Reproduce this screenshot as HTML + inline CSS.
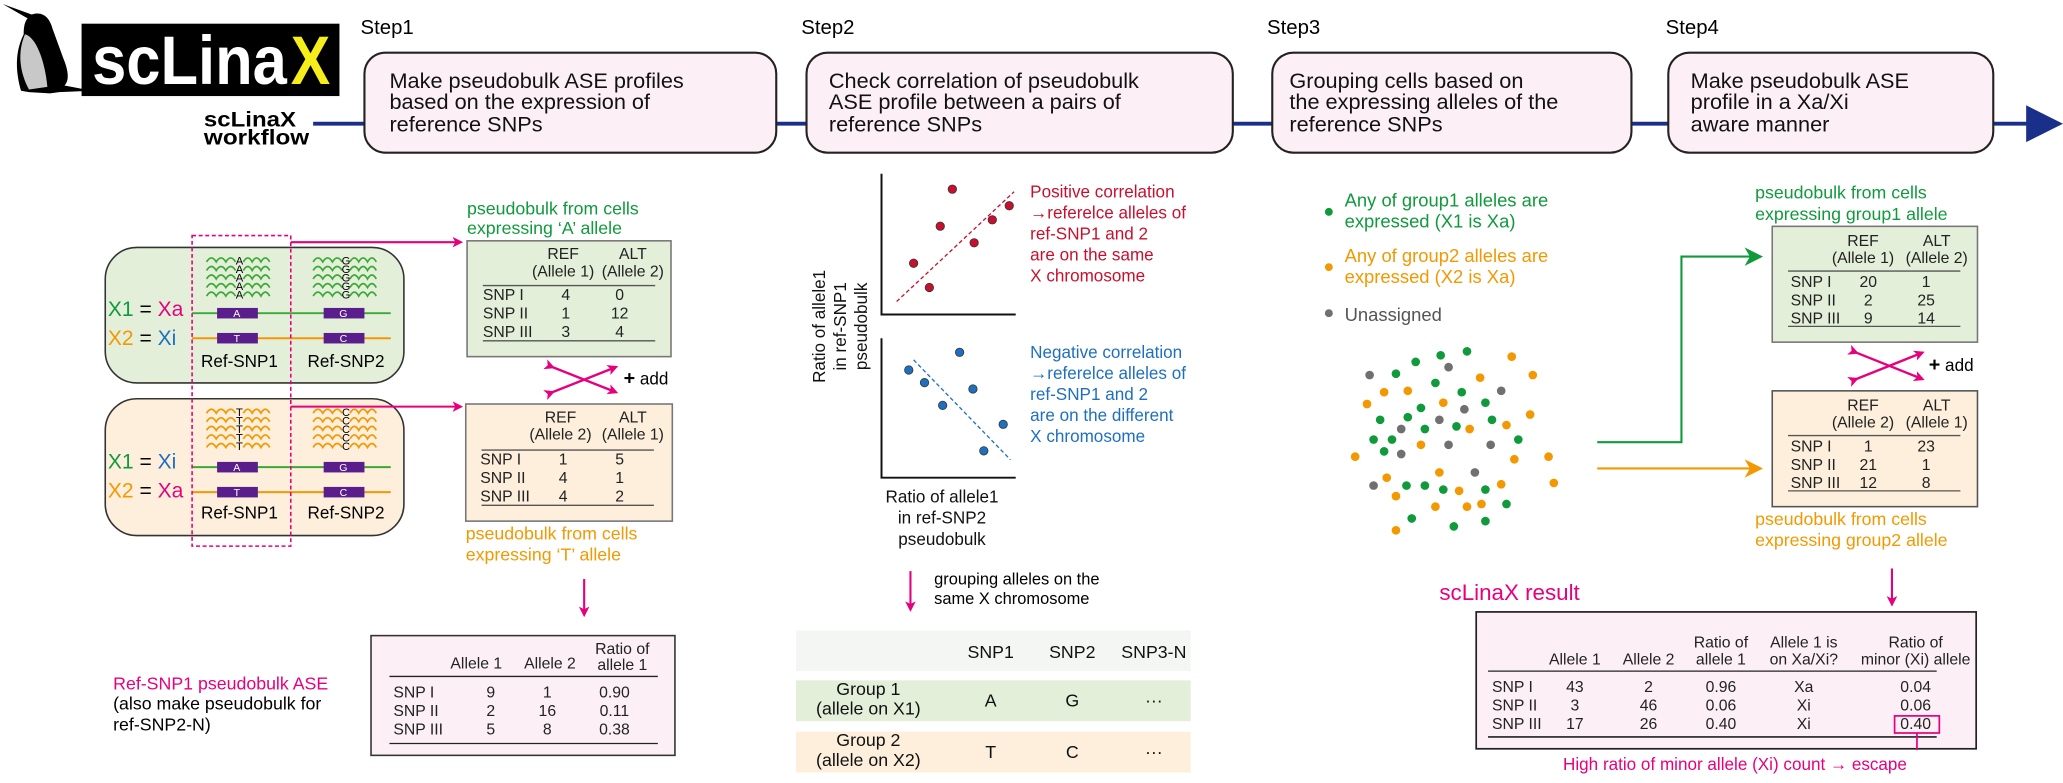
<!DOCTYPE html>
<html><head><meta charset="utf-8">
<style>
html,body{margin:0;padding:0;background:#fff;}
svg{display:block;font-family:"Liberation Sans",Arial,sans-serif;}
</style></head>
<body>
<svg id="fig" width="2063" height="783" viewBox="0 0 1568 595" preserveAspectRatio="none" xmlns="http://www.w3.org/2000/svg">
<defs>
<marker id="mag" markerWidth="8" markerHeight="8" refX="6" refY="4" orient="auto" markerUnits="userSpaceOnUse"><path d="M0,0 L8,4 L0,8 L2,4 Z" fill="#e6007e"/></marker>
<marker id="grn" markerWidth="14" markerHeight="14" refX="12" refY="7" orient="auto" markerUnits="userSpaceOnUse"><path d="M0,0 L14,7 L0,14 L4,7 Z" fill="#109a3c"/></marker>
<marker id="org" markerWidth="14" markerHeight="14" refX="12" refY="7" orient="auto" markerUnits="userSpaceOnUse"><path d="M0,0 L14,7 L0,14 L4,7 Z" fill="#f39800"/></marker>
</defs>

<!-- Header -->
<g>
<path d="M2,3 L24,11 C33,8 38,14 40,22 L48,44 C53,56 52,62 49,65 L70,69 L45,70 L38,71 L22,70 L16,69 C12,55 11,40 18,26 C18,20 19,16 21,14 Z" fill="#000"/>
<path d="M19,26 C27,28 34,45 36,66 L22,68 C15,55 13,40 19,26 Z" fill="#c8c8c8"/>
</g>
<g>
<rect x="62" y="18" width="196" height="55" fill="#000"/>
<text x="70" y="64" font-size="52" font-weight="bold" fill="#fff" textLength="148" lengthAdjust="spacingAndGlyphs">scLina</text>
<text x="221" y="64" font-size="52" font-weight="bold" fill="#f5ee1a" textLength="30" lengthAdjust="spacingAndGlyphs">X</text>
</g>
<text x="155" y="96" font-size="16" font-weight="bold" textLength="70" lengthAdjust="spacingAndGlyphs">scLinaX</text>
<text x="155" y="110" font-size="16" font-weight="bold" textLength="80" lengthAdjust="spacingAndGlyphs">workflow</text>
<line x1="238" y1="94" x2="1545" y2="94" stroke="#1a2f8a" stroke-width="3"/>
<path d="M1540,80 L1568,94 L1540,108 Z" fill="#1a2f8a"/>

<g font-size="15.5">
<text x="274" y="26">Step1</text>
<text x="609" y="26">Step2</text>
<text x="963" y="26">Step3</text>
<text x="1266" y="26">Step4</text>
</g>
<g font-size="16.5" stroke="#222" stroke-width="1.6" fill="#fcf0f6">
<rect x="277" y="40" width="313" height="76" rx="16"/>
<rect x="613" y="40" width="324" height="76" rx="16"/>
<rect x="967" y="40" width="273" height="76" rx="16"/>
<rect x="1268" y="40" width="247" height="76" rx="16"/>
</g>
<g font-size="16.5" fill="#111">
<text x="296" y="67">Make pseudobulk ASE profiles</text>
<text x="296" y="83">based on the expression of</text>
<text x="296" y="100">reference SNPs</text>
<text x="630" y="67">Check correlation of pseudobulk</text>
<text x="630" y="83">ASE profile between a pairs of</text>
<text x="630" y="100">reference SNPs</text>
<text x="980" y="67">Grouping cells based on</text>
<text x="980" y="83">the expressing alleles of the</text>
<text x="980" y="100">reference SNPs</text>
<text x="1285" y="67">Make pseudobulk ASE</text>
<text x="1285" y="83">profile in a Xa/Xi</text>
<text x="1285" y="100">aware manner</text>
</g>

<!-- Step1 chromosome boxes -->
<rect x="80" y="188" width="227" height="103" rx="24" fill="#e4efda" stroke="#333" stroke-width="1.2"/>
<rect x="80" y="303" width="227" height="104" rx="24" fill="#fdefdb" stroke="#333" stroke-width="1.2"/>
<g id="waves"></g>
<g font-size="16">
<text x="82" y="240"><tspan fill="#109a3c">X1</tspan> = <tspan fill="#e6007e">Xa</tspan></text>
<text x="82" y="262"><tspan fill="#f39800">X2</tspan> = <tspan fill="#1e6fc0">Xi</tspan></text>
<text x="82" y="356"><tspan fill="#109a3c">X1</tspan> = <tspan fill="#1e6fc0">Xi</tspan></text>
<text x="82" y="378"><tspan fill="#f39800">X2</tspan> = <tspan fill="#e6007e">Xa</tspan></text>
</g>
<g stroke-width="1.5">
<line x1="146" y1="238" x2="297" y2="238" stroke="#3aaa35"/>
<line x1="146" y1="257" x2="297" y2="257" stroke="#f39800"/>
<line x1="146" y1="355" x2="297" y2="355" stroke="#3aaa35"/>
<line x1="146" y1="374" x2="297" y2="374" stroke="#f39800"/>
</g>
<g fill="#5a1e8c">
<rect x="165" y="234" width="31" height="8"/><rect x="246" y="234" width="31" height="8"/>
<rect x="165" y="253" width="31" height="8"/><rect x="246" y="253" width="31" height="8"/>
<rect x="165" y="351" width="31" height="8"/><rect x="246" y="351" width="31" height="8"/>
<rect x="165" y="370" width="31" height="8"/><rect x="246" y="370" width="31" height="8"/>
</g>
<g fill="#fff" font-size="8" text-anchor="middle">
<text x="180" y="241">A</text><text x="261" y="241">G</text><text x="180" y="260">T</text><text x="261" y="260">C</text>
<text x="180" y="358">A</text><text x="261" y="358">G</text><text x="180" y="377">T</text><text x="261" y="377">C</text>
</g>
<g font-size="13" text-anchor="middle">
<text x="182" y="279">Ref-SNP1</text><text x="263" y="279">Ref-SNP2</text>
<text x="182" y="394">Ref-SNP1</text><text x="263" y="394">Ref-SNP2</text>
</g>
<rect x="146" y="179" width="75" height="236" fill="none" stroke="#e6007e" stroke-width="1.2" stroke-dasharray="3,2"/>
<line x1="221" y1="184" x2="350" y2="184" stroke="#e6007e" stroke-width="1.6" marker-end="url(#mag)"/>
<line x1="221" y1="309" x2="350" y2="309" stroke="#e6007e" stroke-width="1.6" marker-end="url(#mag)"/>

<!-- Step1 tables -->
<g font-size="13.5" fill="#109a3c"><text x="355" y="163">pseudobulk from cells</text><text x="355" y="178">expressing ‘A’ allele</text></g>
<rect x="355" y="183" width="155" height="88" fill="#e4efda" stroke="#777" stroke-width="1.2"/>
<g font-size="12" fill="#222" text-anchor="middle">
<text x="428" y="197">REF</text><text x="481" y="197">ALT</text>
<text x="428" y="210">(Allele 1)</text><text x="481" y="210">(Allele 2)</text>
<text x="430" y="228">4</text><text x="471" y="228">0</text>
<text x="430" y="242">1</text><text x="471" y="242">12</text>
<text x="430" y="256">3</text><text x="471" y="256">4</text>
</g>
<g font-size="12" fill="#222"><text x="367" y="228">SNP I</text><text x="367" y="242">SNP II</text><text x="367" y="256">SNP III</text></g>
<line x1="367" y1="217" x2="498" y2="217" stroke="#555"/><line x1="367" y1="259" x2="498" y2="259" stroke="#555"/>

<g stroke="#e6007e" stroke-width="1.8">
<line x1="420" y1="279" x2="468" y2="298" marker-end="url(#mag)" marker-start="url(#mag)"/>
<line x1="420" y1="298" x2="468" y2="279" marker-end="url(#mag)" marker-start="url(#mag)"/>
</g>
<text x="474" y="292" font-size="13"><tspan font-weight="bold" font-size="15">+</tspan> add</text>

<rect x="354" y="307" width="157" height="89" fill="#fdefdb" stroke="#777" stroke-width="1.2"/>
<g font-size="12" fill="#222" text-anchor="middle">
<text x="426" y="321">REF</text><text x="481" y="321">ALT</text>
<text x="426" y="334">(Allele 2)</text><text x="481" y="334">(Allele 1)</text>
<text x="428" y="353">1</text><text x="471" y="353">5</text>
<text x="428" y="367">4</text><text x="471" y="367">1</text>
<text x="428" y="381">4</text><text x="471" y="381">2</text>
</g>
<g font-size="12" fill="#222"><text x="365" y="353">SNP I</text><text x="365" y="367">SNP II</text><text x="365" y="381">SNP III</text></g>
<line x1="366" y1="342" x2="497" y2="342" stroke="#555"/><line x1="366" y1="384" x2="497" y2="384" stroke="#555"/>
<g font-size="13.5" fill="#f39800"><text x="354" y="410">pseudobulk from cells</text><text x="354" y="426">expressing ‘T’ allele</text></g>
<line x1="444" y1="440" x2="444" y2="467" stroke="#e6007e" stroke-width="1.6" marker-end="url(#mag)"/>

<g font-size="13.5">
<text x="86" y="524" fill="#e6007e">Ref-SNP1 pseudobulk ASE</text>
<text x="86" y="539">(also make pseudobulk for</text>
<text x="86" y="555">ref-SNP2-N)</text>
</g>
<rect x="282" y="483" width="231" height="91" fill="#fcf0f6" stroke="#333" stroke-width="1.2"/>
<g font-size="12" fill="#222" text-anchor="middle">
<text x="362" y="508">Allele 1</text><text x="418" y="508">Allele 2</text>
<text x="473" y="497">Ratio of</text><text x="473" y="509">allele 1</text>
<text x="373" y="530">9</text><text x="416" y="530">1</text><text x="467" y="530">0.90</text>
<text x="373" y="544">2</text><text x="416" y="544">16</text><text x="467" y="544">0.11</text>
<text x="373" y="558">5</text><text x="416" y="558">8</text><text x="467" y="558">0.38</text>
</g>
<g font-size="12" fill="#222"><text x="299" y="530">SNP I</text><text x="299" y="544">SNP II</text><text x="299" y="558">SNP III</text></g>
<line x1="296" y1="514" x2="500" y2="514" stroke="#222"/><line x1="296" y1="565" x2="500" y2="565" stroke="#222"/>

<!-- Step2 scatter -->
<g id="scatter"></g>
<g font-size="13" text-anchor="middle" fill="#111">
<text transform="translate(627,248) rotate(-90)">Ratio of allele1</text>
<text transform="translate(643,248) rotate(-90)">in ref-SNP1</text>
<text transform="translate(659,248) rotate(-90)">pseudobulk</text>
<text x="716" y="382">Ratio of allele1</text>
<text x="716" y="398">in ref-SNP2</text>
<text x="716" y="414">pseudobulk</text>
</g>
<g font-size="13" fill="#c8102e">
<text x="783" y="150">Positive correlation</text><text x="783" y="166">→referelce alleles of</text><text x="783" y="182">ref-SNP1 and 2</text><text x="783" y="198">are on the same</text><text x="783" y="214">X chromosome</text>
</g>
<g font-size="13" fill="#1e6fc0">
<text x="783" y="272">Negative correlation</text><text x="783" y="288">→referelce alleles of</text><text x="783" y="304">ref-SNP1 and 2</text><text x="783" y="320">are on the different</text><text x="783" y="336">X chromosome</text>
</g>
<line x1="692" y1="434" x2="692" y2="463" stroke="#e6007e" stroke-width="1.6" marker-end="url(#mag)"/>
<g font-size="12.5"><text x="710" y="444">grouping alleles on the</text><text x="710" y="459">same X chromosome</text></g>
<rect x="605" y="479" width="300" height="31" fill="#f4f6f4"/>
<rect x="605" y="517" width="300" height="31" fill="#e4efda"/>
<rect x="605" y="556" width="300" height="31" fill="#fdefdb"/>
<g font-size="13.5" text-anchor="middle" fill="#111">
<text x="753" y="500">SNP1</text><text x="815" y="500">SNP2</text><text x="877" y="500">SNP3-N</text>
<text x="660" y="528">Group 1</text><text x="660" y="543">(allele on X1)</text>
<text x="753" y="537">A</text><text x="815" y="537">G</text><text x="877" y="537">···</text>
<text x="660" y="567">Group 2</text><text x="660" y="582">(allele on X2)</text>
<text x="753" y="576">T</text><text x="815" y="576">C</text><text x="877" y="576">···</text>
</g>

<!-- Step3 -->
<circle cx="1010" cy="161" r="3" fill="#109a3c"/><circle cx="1010" cy="203" r="3" fill="#f39800"/><circle cx="1010" cy="238" r="3" fill="#707070"/>
<g font-size="14">
<text x="1022" y="157" fill="#109a3c">Any of group1 alleles are</text><text x="1022" y="173" fill="#109a3c">expressed (X1 is Xa)</text>
<text x="1022" y="199" fill="#f39800">Any of group2 alleles are</text><text x="1022" y="215" fill="#f39800">expressed (X2 is Xa)</text>
<text x="1022" y="244" fill="#555">Unassigned</text>
</g>
<g id="cells"></g>
<polyline points="1214,336 1278,336 1278,195 1338,195" fill="none" stroke="#109a3c" stroke-width="1.6" marker-end="url(#grn)"/>
<line x1="1214" y1="356" x2="1338" y2="356" stroke="#f39800" stroke-width="1.6" marker-end="url(#org)"/>

<!-- Step4 tables -->
<g font-size="13.5" fill="#109a3c"><text x="1334" y="151">pseudobulk from cells</text><text x="1334" y="167">expressing group1 allele</text></g>
<rect x="1347" y="172" width="156" height="88" fill="#e4efda" stroke="#777" stroke-width="1.2"/>
<g font-size="12" fill="#222" text-anchor="middle">
<text x="1416" y="187">REF</text><text x="1472" y="187">ALT</text>
<text x="1416" y="200">(Allele 1)</text><text x="1472" y="200">(Allele 2)</text>
<text x="1420" y="218">20</text><text x="1464" y="218">1</text>
<text x="1420" y="232">2</text><text x="1464" y="232">25</text>
<text x="1420" y="246">9</text><text x="1464" y="246">14</text>
</g>
<g font-size="12" fill="#222"><text x="1361" y="218">SNP I</text><text x="1361" y="232">SNP II</text><text x="1361" y="246">SNP III</text></g>
<line x1="1359" y1="206" x2="1490" y2="206" stroke="#555"/><line x1="1359" y1="248" x2="1490" y2="248" stroke="#555"/>
<g stroke="#e6007e" stroke-width="1.8">
<line x1="1411" y1="268" x2="1461" y2="288" marker-end="url(#mag)" marker-start="url(#mag)"/>
<line x1="1411" y1="288" x2="1461" y2="268" marker-end="url(#mag)" marker-start="url(#mag)"/>
</g>
<text x="1466" y="282" font-size="13"><tspan font-weight="bold" font-size="15">+</tspan> add</text>
<rect x="1347" y="297" width="156" height="88" fill="#fdefdb" stroke="#555" stroke-width="1.2"/>
<g font-size="12" fill="#222" text-anchor="middle">
<text x="1416" y="312">REF</text><text x="1472" y="312">ALT</text>
<text x="1416" y="325">(Allele 2)</text><text x="1472" y="325">(Allele 1)</text>
<text x="1420" y="343">1</text><text x="1464" y="343">23</text>
<text x="1420" y="357">21</text><text x="1464" y="357">1</text>
<text x="1420" y="371">12</text><text x="1464" y="371">8</text>
</g>
<g font-size="12" fill="#222"><text x="1361" y="343">SNP I</text><text x="1361" y="357">SNP II</text><text x="1361" y="371">SNP III</text></g>
<line x1="1359" y1="331" x2="1490" y2="331" stroke="#555"/><line x1="1359" y1="373" x2="1490" y2="373" stroke="#555"/>
<g font-size="13.5" fill="#f39800"><text x="1334" y="399">pseudobulk from cells</text><text x="1334" y="415">expressing group2 allele</text></g>
<line x1="1438" y1="432" x2="1438" y2="459" stroke="#e6007e" stroke-width="1.6" marker-end="url(#mag)"/>

<text x="1094" y="456" font-size="17" fill="#e6007e">scLinaX result</text>
<rect x="1122" y="465" width="380" height="104" fill="#fcf0f6" stroke="#222" stroke-width="1.3"/>
<g font-size="12" fill="#222" text-anchor="middle">
<text x="1197" y="505">Allele 1</text><text x="1253" y="505">Allele 2</text>
<text x="1308" y="492">Ratio of</text><text x="1308" y="505">allele 1</text>
<text x="1371" y="492">Allele 1 is</text><text x="1371" y="505">on Xa/Xi?</text>
<text x="1456" y="492">Ratio of</text><text x="1456" y="505">minor (Xi) allele</text>
<text x="1197" y="526">43</text><text x="1253" y="526">2</text><text x="1308" y="526">0.96</text><text x="1371" y="526">Xa</text><text x="1456" y="526">0.04</text>
<text x="1197" y="540">3</text><text x="1253" y="540">46</text><text x="1308" y="540">0.06</text><text x="1371" y="540">Xi</text><text x="1456" y="540">0.06</text>
<text x="1197" y="554">17</text><text x="1253" y="554">26</text><text x="1308" y="554">0.40</text><text x="1371" y="554">Xi</text><text x="1456" y="554">0.40</text>
</g>
<g font-size="12" fill="#222"><text x="1134" y="526">SNP I</text><text x="1134" y="540">SNP II</text><text x="1134" y="554">SNP III</text></g>
<line x1="1131" y1="510" x2="1472" y2="510" stroke="#222"/><line x1="1131" y1="560" x2="1472" y2="560" stroke="#222" stroke-width="1.3"/>
<rect x="1440" y="544" width="34" height="13" fill="none" stroke="#e6007e" stroke-width="1.3"/>
<line x1="1457" y1="557" x2="1457" y2="570" stroke="#e6007e" stroke-width="1.3"/>
<text x="1188" y="585" font-size="13" fill="#e6007e">High ratio of minor allele (Xi) count → escape</text>
</svg>
<script>
// waves in step1
var waveRowsY=[199,205.5,212,218.5,225];
var waveCols=[{x:157,w:22},{x:185,w:20},{x:238,w:22},{x:266,w:20}];
var waveLetters1=["A","G"], waveLetters2=["T","C"];
function waveBlock(g, y0, color, letters){
  waveRowsY.forEach(function(yy){
    var y=yy+y0;
    waveCols.forEach(function(c){
      var d="M"+c.x+","+y; var n=3, step=c.w/n;
      for(var i=0;i<n;i++){d+=" q"+(step/2)+",-6 "+step+",0";}
      var p=document.createElementNS("http://www.w3.org/2000/svg","path");
      
      
      p.setAttribute("d",d);p.setAttribute("fill","none");p.setAttribute("stroke",color);p.setAttribute("stroke-width","1.3");
      g.appendChild(p);
    });
    [182,263].forEach(function(x,k){
      var t=document.createElementNS("http://www.w3.org/2000/svg","text");
      
      
      t.setAttribute("x",x);t.setAttribute("y",y+2);t.setAttribute("font-size","8.5");t.setAttribute("text-anchor","middle");
      t.textContent=letters[k];g.appendChild(t);
    });
  });
}
var wg=document.getElementById("waves");
waveBlock(wg,0,"#3aaa35",waveLetters1);
waveBlock(wg,115,"#f39800",waveLetters2);

// scatter plots
var posX=[0.52,0.42,0.85,0.70,0.99,0.20,0.33];
var posY=[0.92,0.63,0.68,0.50,0.79,0.34,0.15];
var negX=[0.58,0.16,0.29,0.69,0.44,0.94,0.78];
var negY=[0.93,0.79,0.69,0.64,0.51,0.36,0.15];
var NS="http://www.w3.org/2000/svg";
var sc=document.getElementById("scatter");
function mk(tag,attrs){var e=document.createElementNS(NS,tag);for(var k in attrs)e.setAttribute(k,attrs[k]);return e;}
function plot(top,bottom,xs,ys,color,dash,nm){
  var left=670,right=772;
  var ax=mk("path",{d:"M"+left+","+top+" L"+left+","+bottom+" L"+right+","+bottom,fill:"none",stroke:"#111","stroke-width":"1.5"});
  
  
  sc.appendChild(ax);
  function X(v){return left+6+v*(right-left-10);} function Y(v){return bottom-6-v*(bottom-top-10);}
  var ln=mk("line",{x1:X(dash[0]),y1:Y(dash[1]),x2:X(dash[2]),y2:Y(dash[3]),stroke:color,"stroke-width":"1","stroke-dasharray":"3,2"});
  
  
  sc.appendChild(ln);
  xs.forEach(function(v,i){
    var c=mk("circle",{cx:X(v),cy:Y(ys[i]),r:"3.2",fill:color,stroke:"#333","stroke-width":"0.6"});
    
    
    sc.appendChild(c);
  });
}
plot(132,239,posX,posY,"#c8102e",[0.06,0.04,1.03,0.9],"positive-plot");
plot(257,363,negX,negY,"#1e6fc0",[0.2,0.87,1.0,0.08],"negative-plot");

// cell dots (step3)
var greenX=[1115,1095,1076,1061,1091,1111,1129,1080,1070,1049,1134,1083,1107,1044,1058,1154,1052,1069,1083,1097,1129,1145,1073,1105,1129];
var greenY=[267,270,275,284,291,298,306,310,317,319,319,326,324,334,334,334,343,369,369,372,372,383,394,400,396];
var orangeX=[1149,1165,1125,1052,1070,1039,1097,1163,1145,1117,1080,1030,1151,1177,1094,1054,1141,1181,1061,1109,1091,1115,1126,1061];
var orangeY=[271,285,287,298,297,307,306,315,323,326,338,347,349,347,359,363,368,367,377,373,385,385,383,403];
var grayX=[1101,1041,1141,1113,1094,1065,1101,1133,1065,1121,1044];
var grayY=[279,285,297,311,319,326,338,338,345,359,369];
var cg=document.getElementById("cells");
function dots(xs,ys,color,nm){xs.forEach(function(x,i){var c=mk("circle",{cx:x,cy:ys[i],r:"3.3",fill:color});


cg.appendChild(c);});}
dots(greenX,greenY,"#109a3c","group1-cell");
dots(orangeX,orangeY,"#f39800","group2-cell");
dots(grayX,grayY,"#707070","unassigned-cell");
</script>
</body></html>
